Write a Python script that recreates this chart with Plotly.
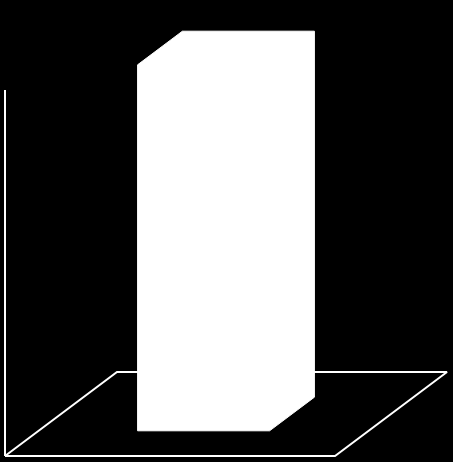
import plotly.graph_objects as go

# ---- data ----
categories = ["A"]
values = [1.0]
y_max = 1.0

# ---- oblique projection (world -> screen) ----
W, H = 453, 462
X0, Y0 = 5, 6          # front-left floor corner (screen, y up)
SX = 330               # floor width
DX, DY = 112, 84       # depth offsets
SY = 366 / y_max       # height scale

def proj(x, z, y):
    return X0 + x * SX + z * DX, Y0 + z * DY + y * SY

fig = go.Figure()
line_col = "white"

# floor
floor = [proj(0, 0, 0), proj(1, 0, 0), proj(1, 1, 0), proj(0, 1, 0), proj(0, 0, 0)]
fig.add_trace(go.Scatter(x=[p[0] for p in floor], y=[p[1] for p in floor], mode="lines",
                         line=dict(color=line_col, width=2), hoverinfo="skip"))
# vertical axis
ax = [proj(0, 0, 0), proj(0, 0, y_max)]
fig.add_trace(go.Scatter(x=[p[0] for p in ax], y=[p[1] for p in ax], mode="lines",
                         line=dict(color=line_col, width=2), hoverinfo="skip"))

n = len(categories)
bw = 0.4
for i, (c, v) in enumerate(zip(categories, values)):
    xc = (i + 0.5) / n
    x1, x2 = xc - bw / 2, xc + bw / 2
    z1, z2 = 0.3, 0.7
    # silhouette of the box (front + top + right side, all white)
    outline = [(x1, z1, 0), (x2, z1, 0), (x2, z2, 0), (x2, z2, v), (x1, z2, v), (x1, z1, v), (x1, z1, 0)]
    pts = [proj(*p) for p in outline]
    fig.add_trace(go.Scatter(x=[p[0] for p in pts], y=[p[1] for p in pts], mode="lines",
                             fill="toself", fillcolor="white",
                             line=dict(color="white", width=1), name=c, hoverinfo="name"))

fig.update_layout(
    width=W, height=H, autosize=False,
    margin=dict(l=0, r=0, t=0, b=0),
    paper_bgcolor="black", plot_bgcolor="black",
    showlegend=False,
    xaxis=dict(range=[0, W], visible=False, fixedrange=True),
    yaxis=dict(range=[0, H], visible=False, fixedrange=True),
)
fig.write_html(
    "out.html",
    config={"displayModeBar": False},
    post_script="document.body.style.margin='0';document.body.style.background='black';document.body.style.overflow='hidden';",
)
